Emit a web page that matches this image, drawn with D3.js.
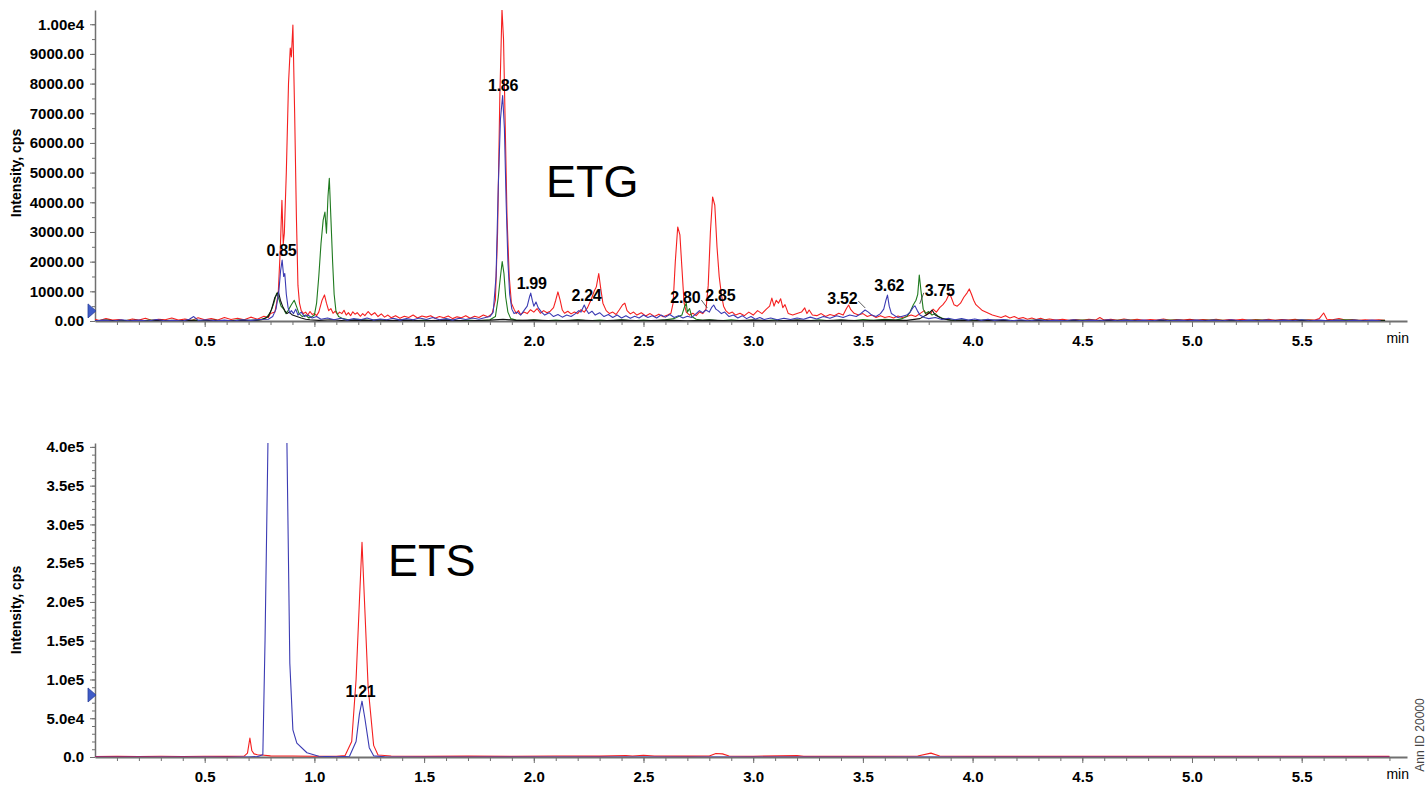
<!DOCTYPE html>
<meta charset="utf-8">
<style>
body { margin: 0; background: #fff; }
svg { display: block; font-family: "Liberation Sans", Arial, sans-serif; }
.axis path, .axis line { stroke: #707070; }
.axis text { font-size: 15px; font-weight: bold; fill: #000; }
.peak-label { font-size: 16px; font-weight: bold; fill: #000; text-anchor: middle; letter-spacing: -0.3px; }
.trace { fill: none; stroke-width: 1.1px; stroke-linejoin: round; }
</style>
<body>
<svg id="chart" width="1426" height="797"></svg>
<script src="https://d3js.org/d3.v7.min.js"></script>
<script>

// ---- ETG panel (top) : [time min, intensity cps]
var etgRed = [[0.00,60],[0.02,20],[0.05,80],[0.08,30],[0.11,50],[0.14,10],[0.17,70],[0.20,30],[0.23,90],[0.26,20],[0.29,60],[0.32,40],[0.35,100],[0.38,30],[0.41,70],[0.44,20],[0.47,110],[0.50,40],[0.53,80],[0.56,30],[0.59,120],[0.62,50],[0.65,90],[0.68,40],[0.71,130],[0.74,60],[0.77,160],[0.79,120],[0.80,250],[0.82,300],[0.835,900],[0.845,2500],[0.852,4070],[0.858,2600],[0.863,2960],[0.872,5000],[0.882,8000],[0.89,9200],[0.895,8900],[0.902,9970],[0.91,7000],[0.918,3500],[0.925,1200],[0.932,600],[0.94,350],[0.95,250],[0.96,300],[0.97,200],[0.98,320],[0.99,220],[1.00,250],[1.01,180],[1.02,300],[1.035,700],[1.046,880],[1.055,600],[1.065,350],[1.075,420],[1.085,260],[1.095,330],[1.105,220],[1.115,300],[1.125,250],[1.135,360],[1.145,200],[1.155,280],[1.165,180],[1.175,310],[1.185,230],[1.195,280],[1.21,160],[1.22,250],[1.23,180],[1.245,320],[1.26,200],[1.275,280],[1.29,150],[1.305,240],[1.32,130],[1.335,200],[1.35,110],[1.37,180],[1.39,90],[1.41,160],[1.43,120],[1.45,200],[1.47,100],[1.49,170],[1.51,130],[1.53,180],[1.55,90],[1.57,150],[1.59,110],[1.61,170],[1.63,80],[1.65,140],[1.67,110],[1.69,180],[1.71,90],[1.73,160],[1.75,120],[1.77,200],[1.79,140],[1.81,250],[1.825,700],[1.835,3000],[1.845,7500],[1.855,10500],[1.862,9500],[1.87,6500],[1.878,3500],[1.888,1500],[1.898,600],[1.91,400],[1.92,250],[1.93,350],[1.94,220],[1.955,300],[1.97,250],[1.985,380],[2.00,300],[2.015,420],[2.03,260],[2.045,350],[2.06,280],[2.075,330],[2.09,450],[2.10,700],[2.11,980],[2.12,700],[2.13,370],[2.14,260],[2.155,330],[2.17,240],[2.185,300],[2.20,250],[2.215,380],[2.23,300],[2.245,450],[2.26,700],[2.275,1000],[2.285,1150],[2.296,1600],[2.305,1100],[2.315,600],[2.33,350],[2.345,250],[2.36,300],[2.375,220],[2.39,380],[2.405,550],[2.415,600],[2.425,350],[2.44,240],[2.455,300],[2.47,200],[2.49,280],[2.51,170],[2.53,250],[2.55,150],[2.57,230],[2.59,140],[2.61,200],[2.625,260],[2.635,600],[2.645,2000],[2.656,3170],[2.666,2900],[2.675,1800],[2.685,600],[2.695,300],[2.71,200],[2.725,260],[2.74,180],[2.755,300],[2.77,250],[2.785,400],[2.795,1200],[2.805,3000],[2.815,4180],[2.825,3900],[2.835,2500],[2.845,1500],[2.855,900],[2.865,500],[2.875,350],[2.89,250],[2.905,300],[2.92,200],[2.94,260],[2.96,180],[2.98,300],[3.00,200],[3.02,350],[3.04,250],[3.06,400],[3.075,500],[3.085,770],[3.095,500],[3.105,700],[3.115,600],[3.125,750],[3.135,450],[3.145,550],[3.16,250],[3.18,200],[3.20,250],[3.22,300],[3.235,440],[3.245,250],[3.255,370],[3.27,200],[3.29,180],[3.31,250],[3.33,150],[3.35,220],[3.37,180],[3.39,260],[3.41,200],[3.425,420],[3.435,540],[3.445,380],[3.46,260],[3.48,200],[3.50,250],[3.52,150],[3.54,200],[3.56,120],[3.58,180],[3.60,120],[3.62,150],[3.64,100],[3.66,170],[3.68,120],[3.70,150],[3.72,200],[3.74,150],[3.76,250],[3.78,350],[3.79,200],[3.80,300],[3.81,250],[3.82,400],[3.835,300],[3.85,450],[3.865,550],[3.88,700],[3.895,940],[3.905,750],[3.915,550],[3.93,500],[3.945,600],[3.96,800],[3.975,950],[3.985,1080],[3.995,900],[4.005,700],[4.015,550],[4.03,450],[4.045,350],[4.06,300],[4.075,250],[4.09,200],[4.11,160],[4.13,120],[4.15,180],[4.17,100],[4.19,150],[4.21,80],[4.23,120],[4.25,60],[4.27,100],[4.29,50],[4.31,90],[4.33,40],[4.35,70],[4.38,30],[4.41,60],[4.44,20],[4.47,50],[4.50,20],[4.53,60],[4.56,30],[4.58,120],[4.60,30],[4.63,60],[4.66,20],[4.69,70],[4.72,30],[4.75,60],[4.78,20],[4.81,50],[4.84,30],[4.87,70],[4.90,20],[4.93,50],[4.96,30],[4.99,60],[5.02,20],[5.05,50],[5.08,30],[5.11,60],[5.14,20],[5.17,50],[5.20,30],[5.23,60],[5.26,20],[5.29,50],[5.32,30],[5.35,60],[5.38,20],[5.41,50],[5.44,30],[5.47,60],[5.50,20],[5.53,40],[5.56,30],[5.58,80],[5.60,270],[5.615,60],[5.64,40],[5.67,80],[5.70,30],[5.73,50],[5.76,20],[5.79,40],[5.82,20],[5.85,40],[5.88,20]];

var etgBlue = [[0.00,10],[0.04,30],[0.08,0],[0.12,40],[0.16,10],[0.20,30],[0.24,0],[0.28,50],[0.32,10],[0.36,20],[0.40,0],[0.43,60],[0.45,150],[0.47,20],[0.51,40],[0.55,10],[0.59,30],[0.63,0],[0.67,40],[0.71,20],[0.75,50],[0.79,60],[0.81,150],[0.825,400],[0.838,1000],[0.846,1700],[0.853,2050],[0.86,1500],[0.865,1600],[0.872,900],[0.88,450],[0.888,270],[0.895,350],[0.905,250],[0.915,400],[0.925,200],[0.94,300],[0.955,150],[0.97,200],[0.99,100],[1.01,150],[1.03,60],[1.06,100],[1.09,40],[1.12,90],[1.15,30],[1.18,80],[1.21,40],[1.24,100],[1.27,30],[1.30,70],[1.33,40],[1.36,90],[1.39,30],[1.42,80],[1.45,40],[1.48,100],[1.51,50],[1.54,120],[1.57,40],[1.60,80],[1.63,30],[1.66,90],[1.69,50],[1.72,100],[1.75,60],[1.78,120],[1.80,150],[1.815,300],[1.828,1500],[1.838,4500],[1.848,6800],[1.858,7600],[1.866,6500],[1.874,4000],[1.882,2000],[1.89,900],[1.90,400],[1.91,250],[1.925,300],[1.94,200],[1.955,350],[1.97,500],[1.98,800],[1.986,940],[1.993,700],[2.00,500],[2.01,640],[2.02,450],[2.035,300],[2.05,200],[2.07,280],[2.09,150],[2.11,220],[2.13,130],[2.15,200],[2.17,150],[2.19,250],[2.205,350],[2.215,300],[2.23,540],[2.24,370],[2.25,250],[2.265,330],[2.28,200],[2.30,280],[2.32,150],[2.34,220],[2.36,120],[2.38,200],[2.40,100],[2.42,180],[2.44,90],[2.46,160],[2.48,100],[2.50,200],[2.52,120],[2.54,180],[2.56,100],[2.58,200],[2.60,130],[2.62,220],[2.64,120],[2.66,180],[2.68,100],[2.70,160],[2.72,120],[2.74,250],[2.755,350],[2.77,280],[2.785,370],[2.80,300],[2.81,450],[2.82,540],[2.83,400],[2.84,350],[2.855,250],[2.87,300],[2.89,150],[2.91,200],[2.93,100],[2.95,180],[2.97,80],[2.99,150],[3.01,60],[3.03,120],[3.05,50],[3.08,100],[3.11,40],[3.14,90],[3.17,50],[3.20,100],[3.23,60],[3.26,130],[3.29,70],[3.32,150],[3.35,90],[3.38,180],[3.41,120],[3.44,200],[3.47,150],[3.49,250],[3.51,370],[3.525,300],[3.54,200],[3.56,150],[3.58,250],[3.595,400],[3.605,700],[3.612,875],[3.62,500],[3.63,250],[3.645,180],[3.66,120],[3.68,160],[3.70,200],[3.715,300],[3.728,450],[3.737,510],[3.748,350],[3.76,200],[3.78,120],[3.80,80],[3.83,120],[3.86,50],[3.89,90],[3.92,40],[3.95,80],[3.98,30],[4.01,70],[4.04,20],[4.07,60],[4.10,20],[4.14,50],[4.18,10],[4.22,40],[4.26,10],[4.30,40],[4.34,10],[4.38,30],[4.42,10],[4.46,40],[4.50,10],[4.54,30],[4.58,10],[4.62,40],[4.66,10],[4.70,30],[4.74,10],[4.78,30],[4.82,10],[4.86,40],[4.90,10],[4.94,30],[4.98,10],[5.02,30],[5.06,10],[5.10,30],[5.14,10],[5.18,40],[5.22,10],[5.26,30],[5.30,10],[5.34,30],[5.38,10],[5.42,30],[5.46,10],[5.50,40],[5.54,10],[5.58,30],[5.62,10],[5.66,30],[5.70,10],[5.74,30],[5.78,10],[5.82,30],[5.86,10]];

var etgGreen = [[0.00,10],[0.05,30],[0.10,0],[0.15,20],[0.20,0],[0.25,30],[0.30,10],[0.35,20],[0.40,0],[0.45,30],[0.50,10],[0.55,20],[0.60,0],[0.65,30],[0.70,20],[0.75,40],[0.78,100],[0.80,300],[0.815,600],[0.828,940],[0.838,750],[0.848,500],[0.86,400],[0.87,250],[0.88,350],[0.895,550],[0.908,700],[0.918,500],[0.93,250],[0.945,150],[0.96,200],[0.975,100],[0.99,150],[1.00,200],[1.01,600],[1.02,1500],[1.03,2600],[1.04,3400],[1.048,3670],[1.055,2960],[1.062,4200],[1.068,4810],[1.075,3500],[1.083,2000],[1.09,900],[1.098,350],[1.11,150],[1.13,80],[1.16,30],[1.20,60],[1.25,20],[1.30,50],[1.35,10],[1.40,40],[1.45,10],[1.50,30],[1.55,10],[1.60,40],[1.65,10],[1.70,30],[1.75,10],[1.80,40],[1.825,150],[1.838,800],[1.848,1500],[1.856,2000],[1.864,1600],[1.872,800],[1.882,300],[1.895,80],[1.92,30],[1.96,10],[2.00,40],[2.05,10],[2.10,30],[2.15,10],[2.20,40],[2.25,10],[2.30,30],[2.35,10],[2.40,40],[2.45,10],[2.50,30],[2.55,10],[2.60,40],[2.64,80],[2.66,150],[2.675,200],[2.688,500],[2.695,600],[2.70,300],[2.71,420],[2.72,150],[2.74,60],[2.77,20],[2.80,40],[2.85,10],[2.90,40],[2.95,10],[3.00,30],[3.05,10],[3.10,40],[3.15,10],[3.20,30],[3.25,10],[3.30,40],[3.35,10],[3.40,30],[3.45,10],[3.50,50],[3.55,20],[3.60,60],[3.65,30],[3.68,80],[3.70,150],[3.715,300],[3.73,550],[3.742,700],[3.75,900],[3.757,1550],[3.765,1000],[3.775,400],[3.785,250],[3.80,320],[3.815,200],[3.83,250],[3.845,150],[3.86,100],[3.88,50],[3.92,20],[3.96,40],[4.00,10],[4.05,30],[4.10,10],[4.15,30],[4.20,10],[4.30,30],[4.40,10],[4.50,30],[4.60,10],[4.70,30],[4.80,10],[4.90,30],[5.00,10],[5.10,30],[5.20,10],[5.30,30],[5.40,10],[5.50,30],[5.60,10],[5.70,40],[5.80,10],[5.88,20]];

var etgBlack = [[0.00,0],[0.06,20],[0.12,0],[0.18,20],[0.24,0],[0.30,20],[0.36,0],[0.42,20],[0.48,0],[0.54,20],[0.60,0],[0.66,20],[0.72,10],[0.76,40],[0.79,150],[0.805,400],[0.82,800],[0.836,980],[0.845,700],[0.855,500],[0.865,350],[0.875,250],[0.885,300],[0.90,200],[0.92,150],[0.94,100],[0.96,60],[0.98,40],[1.02,20],[1.08,40],[1.14,10],[1.20,30],[1.30,10],[1.40,30],[1.50,10],[1.60,30],[1.70,10],[1.80,30],[1.86,60],[1.92,20],[2.00,30],[2.10,10],[2.20,30],[2.30,10],[2.40,30],[2.50,10],[2.60,30],[2.70,10],[2.80,30],[2.90,10],[3.00,30],[3.10,10],[3.20,30],[3.30,10],[3.40,30],[3.50,10],[3.60,30],[3.70,20],[3.76,80],[3.80,250],[3.815,370],[3.83,200],[3.86,80],[3.90,30],[4.00,10],[4.10,30],[4.20,10],[4.30,20],[4.40,10],[4.60,20],[4.80,10],[5.00,20],[5.20,10],[5.40,20],[5.60,10],[5.88,10]];

var etgPeaks = [{t: 0.85, v: 2050, text: "0.85"}, {t: 1.86, v: 7600, text: "1.86"}, {t: 1.99, v: 940, text: "1.99"}, {t: 2.24, v: 540, text: "2.24"}, {t: 2.80, v: 370, text: "2.80"}, {t: 2.85, v: 540, text: "2.85"}, {t: 3.52, v: 370, text: "3.52"}, {t: 3.62, v: 875, text: "3.62"}, {t: 3.75, v: 510, text: "3.75"}];

// ---- ETS panel (bottom)
var etsRed = [[0.00,500],[0.10,800],[0.20,600],[0.30,900],[0.40,700],[0.50,900],[0.60,800],[0.68,1200],[0.695,5000],[0.706,24500],[0.715,8000],[0.725,4000],[0.74,3000],[0.76,2500],[0.80,1500],[0.90,1200],[1.00,1000],[1.10,1000],[1.14,2000],[1.17,20000],[1.19,100000],[1.205,200000],[1.217,277000],[1.23,190000],[1.245,90000],[1.27,15000],[1.29,2500],[1.35,1200],[1.50,1000],[1.70,1100],[1.90,900],[2.10,1200],[2.30,1100],[2.42,2000],[2.45,1300],[2.50,2200],[2.55,1300],[2.70,1100],[2.80,1300],[2.83,4500],[2.86,4000],[2.89,1300],[3.00,1000],[3.20,1800],[3.23,1000],[3.50,1000],[3.75,1200],[3.81,5000],[3.85,1300],[4.00,1000],[4.50,900],[5.00,1000],[5.50,900],[5.90,800]];

var etsBlue = [[0.00,0],[0.70,0],[0.74,500],[0.765,3000],[0.775,150000],[0.788,400000],[0.81,900000],[0.84,1100000],[0.86,800000],[0.875,400000],[0.888,121000],[0.902,35000],[0.92,18000],[0.966,5500],[1.02,1000],[1.10,300],[1.16,1000],[1.19,20000],[1.205,55000],[1.217,72000],[1.23,50000],[1.25,12000],[1.27,1500],[1.32,300],[1.50,0],[5.90,0]];

var etsPeaks = [{t: 1.21, v: 72000, text: "1.21"}];

// ---- axis ticks
var xTickValues = [0.5, 1.0, 1.5, 2.0, 2.5, 3.0, 3.5, 4.0, 4.5, 5.0, 5.5];
var xTickLabels = ["0.5", "1.0", "1.5", "2.0", "2.5", "3.0", "3.5", "4.0", "4.5", "5.0", "5.5"];
var etgYTicks = [0, 1000, 2000, 3000, 4000, 5000, 6000, 7000, 8000, 9000, 10000];
var etgYLabels = ["0.00", "1000.00", "2000.00", "3000.00", "4000.00", "5000.00", "6000.00", "7000.00", "8000.00", "9000.00", "1.00e4"];
var etsYTicks = [0, 50000, 100000, 150000, 200000, 250000, 300000, 350000, 400000];
var etsYLabels = ["0.0", "5.0e4", "1.0e5", "1.5e5", "2.0e5", "2.5e5", "3.0e5", "3.5e5", "4.0e5"];

var svg = d3.select("#chart");

function drawPanel(opt) {
  var x = d3.scaleLinear().domain([0, 5.98]).range([95, 1407]);
  var y = d3.scaleLinear().domain([0, opt.yMax]).range([opt.bottom, opt.top]);
  var g = svg.append("g");

  g.append("clipPath").attr("id", opt.id + "clip")
    .append("rect").attr("x", 95).attr("y", opt.top).attr("width", 1312).attr("height", opt.bottom - opt.top);

  // minor ticks
  g.append("g").attr("class", "axis").attr("transform", "translate(0," + opt.bottom + ")")
    .call(d3.axisBottom(x).tickValues(d3.range(0.1, 5.95, 0.1)).tickSize(4).tickFormat(""))
    .select(".domain").remove();
  g.append("g").attr("class", "axis").attr("transform", "translate(95,0)")
    .call(d3.axisLeft(y).tickValues(d3.range(0, opt.yMax, opt.minorStep)).tickSize(3).tickFormat(""))
    .select(".domain").remove();

  var xa = g.append("g").attr("class", "axis").attr("transform", "translate(0," + opt.bottom + ")")
    .call(d3.axisBottom(x).tickValues(xTickValues).tickSize(6).tickSizeOuter(0)
      .tickFormat(function(d, i) { return xTickLabels[i]; }));
  xa.select(".domain").attr("stroke-width", 2);
  xa.selectAll("text").attr("dy", "1.05em");

  var ya = g.append("g").attr("class", "axis").attr("transform", "translate(95,0)")
    .call(d3.axisLeft(y).tickValues(opt.yTicks).tickSize(5).tickSizeOuter(0)
      .tickFormat(function(d, i) { return opt.yLabels[i]; }));
  ya.select(".domain").attr("stroke-width", 1.5);
  ya.selectAll("text").attr("x", -11);

  g.append("text").attr("x", 1409).attr("y", opt.bottom + 22)
    .attr("text-anchor", "end").style("font-size", "14px").text("min");

  g.append("text")
    .attr("transform", "translate(21," + opt.titleY + ") rotate(-90)")
    .attr("text-anchor", "middle").style("font-size", "14px").style("font-weight", "bold")
    .text("Intensity, cps");

  var line = d3.line().x(function(d) { return x(d[0]); }).y(function(d) { return y(d[1]); });
  var traces = g.append("g").attr("clip-path", "url(#" + opt.id + "clip)");
  opt.series.forEach(function(s) {
    traces.append("path").attr("class", "trace").attr("stroke", s.color).attr("d", line(s.data));
  });

  // baseline threshold marker
  var my = y(opt.marker);
  g.append("path")
    .attr("d", "M88," + (my - 7) + "L96," + my + "L88," + (my + 7) + "Z")
    .attr("fill", "#3f5cc8").attr("stroke", "#2a3f99").attr("stroke-width", 0.8);

  // peak labels
  opt.peaks.forEach(function(p) {
    var off = opt.labelShift[p.text] || [0, 0];
    var lx = x(p.t) + off[0], ly = y(p.v) - 4 + off[1];
    g.append("text").attr("class", "peak-label").attr("x", lx).attr("y", ly).text(p.text);
    if (off[0] !== 0) {
      var side = off[0] < 0 ? 1 : -1;
      g.append("line")
        .attr("x1", lx + side * 16).attr("y1", ly - 3)
        .attr("x2", x(p.t) - side * 2).attr("y2", y(p.v) - 2)
        .attr("stroke", "#333").attr("stroke-width", 0.8);
    }
  });

  g.append("text").attr("x", opt.name[1]).attr("y", opt.name[2])
    .style("font-size", "45px").text(opt.name[0]);
}

drawPanel({
  id: "etg", top: 10, bottom: 321, yMax: 10480, minorStep: 500,
  yTicks: etgYTicks, yLabels: etgYLabels, titleY: 173, marker: 340,
  series: [
    {color: "#f52020", data: etgRed},
    {color: "#1f7a1f", data: etgGreen},
    {color: "#111111", data: etgBlack},
    {color: "#3b3bb3", data: etgBlue}
  ],
  peaks: etgPeaks,
  labelShift: {"2.80": [-24, -3], "3.52": [-25, -2], "3.75": [22, -6]},
  name: ["ETG", 546, 197]
});

drawPanel({
  id: "ets", top: 443, bottom: 757, yMax: 405000, minorStep: 10000,
  yTicks: etsYTicks, yLabels: etsYLabels, titleY: 610, marker: 80000,
  series: [
    {color: "#f52020", data: etsRed},
    {color: "#3b3bb3", data: etsBlue}
  ],
  peaks: etsPeaks,
  labelShift: {},
  name: ["ETS", 388, 576]
});

// sample annotation running up the right edge
svg.append("text")
  .attr("transform", "translate(1424,735) rotate(-90)")
  .attr("text-anchor", "middle").style("font-size", "12px").attr("fill", "#444")
  .text("Ann ID 20000");

</script>
</body>
